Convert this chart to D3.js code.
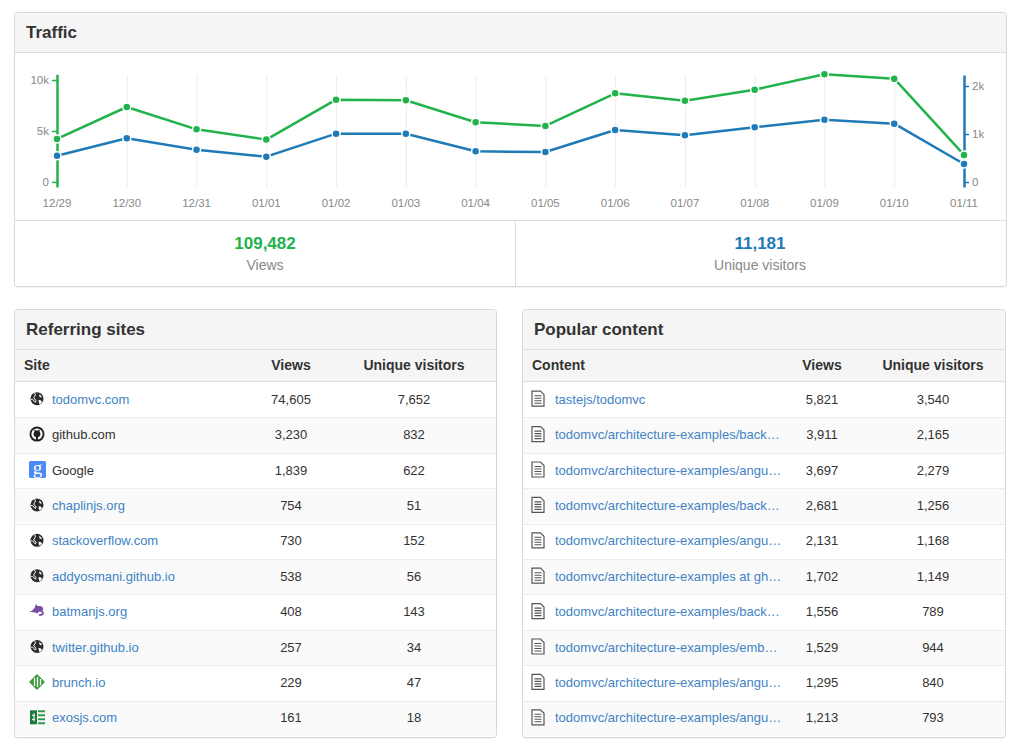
<!DOCTYPE html>
<html><head><meta charset="utf-8">
<script src="https://cdn.jsdelivr.net/npm/d3@7"></script>
<style>
html,body{margin:0;padding:0;background:#fff;}
svg{display:block;font-family:"Liberation Sans",Arial,Helvetica,sans-serif;}
</style></head>
<body>
<svg id="c" width="1024" height="753"></svg>
<script>
// ---------- data ----------
const dates = ["12/29","12/30","12/31","01/01","01/02","01/03","01/04","01/05","01/06","01/07","01/08","01/09","01/10","01/11"];
const views = [4220,7350,5160,4150,8070,8010,5850,5490,8690,7970,9050,10560,10130,2650];
const uniques = [548,910,673,528,1007,1007,639,625,1083,972,1139,1299,1215,375];
const viewTicks = [0,5000,10000];
const uniqueTicks = [0,1000,2000];
const totalViews = "109,482";
const totalUniques = "11,181";

const sites = ["todomvc.com","github.com","Google","chaplinjs.org","stackoverflow.com","addyosmani.github.io","batmanjs.org","twitter.github.io","brunch.io","exosjs.com"];
const siteIcons = ["globe","github","google","globe","globe","globe","batman","globe","brunch","exos"];
const siteLinks = [true,false,false,true,true,true,true,true,true,true];
const siteViews = [74605,3230,1839,754,730,538,408,257,229,161];
const siteUniques = [7652,832,622,51,152,56,143,34,47,18];

const contents = ["tastejs/todomvc","todomvc/architecture-examples/back\u2026","todomvc/architecture-examples/angu\u2026","todomvc/architecture-examples/back\u2026","todomvc/architecture-examples/angu\u2026","todomvc/architecture-examples at gh\u2026","todomvc/architecture-examples/back\u2026","todomvc/architecture-examples/emb\u2026","todomvc/architecture-examples/angu\u2026","todomvc/architecture-examples/angu\u2026"];
const contentViews = [5821,3911,3697,2681,2131,1702,1556,1529,1295,1213];
const contentUniques = [3540,2165,2279,1256,1168,1149,789,944,840,793];

// ---------- style ----------
const GREEN = "#22b24c", BLUE = "#1f7ab8", LINK = "#4183c4", TXT = "#333";
const fmt = d3.format(",");
const svg = d3.select("#c");

function panel(x, y, w, h, title, headerH) {
  const g = svg.append("g");
  g.append("rect").attr("x", x+0.5).attr("y", y+1.5).attr("width", w).attr("height", h)
    .attr("rx", 3).attr("fill", "#e8e8e8");
  g.append("rect").attr("x", x+0.5).attr("y", y+0.5).attr("width", w).attr("height", h)
    .attr("rx", 3).attr("fill", "#fff").attr("stroke", "#d8d8d8");
  g.append("path").attr("d", `M${x+1},${y+headerH} V${y+4} Q${x+1},${y+1} ${x+4},${y+1} H${x+w-3} Q${x+w},${y+1} ${x+w},${y+4} V${y+headerH} Z`)
    .attr("fill", "#f5f5f5");
  g.append("line").attr("x1", x+1).attr("x2", x+w).attr("y1", y+headerH+0.5).attr("y2", y+headerH+0.5)
    .attr("stroke", "#dedede");
  g.append("text").attr("x", x+12).attr("y", y+26).attr("font-size", 17).attr("font-weight", "bold")
    .attr("fill", TXT).text(title);
  return g;
}

// ---------- Traffic panel ----------
panel(14, 12, 992, 274, "Traffic", 40);

const x = d3.scalePoint().domain(dates).range([57, 964]);
const yV = d3.scaleLinear().domain([-500, 10560]).range([187, 74.3]);
const yU = d3.scaleLinear().domain([-104, 2229]).range([187, 75]);

const chart = svg.append("g");
chart.selectAll("line.grid").data(dates).enter().append("line")
  .attr("x1", d => x(d)+0.5).attr("x2", d => x(d)+0.5).attr("y1", 75).attr("y2", 187)
  .attr("stroke", "#ececec");

chart.selectAll("text.xl").data(dates).enter().append("text")
  .attr("x", d => x(d)).attr("y", 207).attr("text-anchor", "middle")
  .attr("font-size", 11.5).attr("fill", "#888").text(d => d);

const kfmt = d => d === 0 ? "0" : (d/1000)+"k";
const axL = chart.append("g").attr("transform", "translate(57,0)")
  .call(d3.axisLeft(yV).tickValues(viewTicks).tickSizeInner(5).tickSizeOuter(0).tickPadding(3).tickFormat(kfmt));
axL.select(".domain").attr("stroke", GREEN).attr("stroke-width", 2.5);
axL.selectAll(".tick line").attr("stroke", GREEN).attr("stroke-width", 1.5);
axL.selectAll(".tick text").attr("fill", "#888").attr("font-size", 11.5);

const axR = chart.append("g").attr("transform", "translate(964,0)")
  .call(d3.axisRight(yU).tickValues(uniqueTicks).tickSizeInner(5).tickSizeOuter(0).tickPadding(3).tickFormat(kfmt));
axR.select(".domain").attr("stroke", BLUE).attr("stroke-width", 2.5);
axR.selectAll(".tick line").attr("stroke", BLUE).attr("stroke-width", 1.5);
axR.selectAll(".tick text").attr("fill", "#888").attr("font-size", 11.5);
axL.attr("font-family", null); axR.attr("font-family", null);

function series(vals, scale, color) {
  chart.append("path").datum(vals)
    .attr("d", d3.line().x((d,i) => x(dates[i])).y(d => scale(d)))
    .attr("fill", "none").attr("stroke", color).attr("stroke-width", 2.5).attr("stroke-linejoin", "round");
  chart.selectAll(null).data(vals).enter().append("circle")
    .attr("cx", (d,i) => x(dates[i])).attr("cy", d => scale(d)).attr("r", 4)
    .attr("fill", color).attr("stroke", "#fff").attr("stroke-width", 1.5);
}
series(uniques, yU, BLUE);
series(views, yV, GREEN);

// summary
svg.append("line").attr("x1", 15).attr("x2", 1006).attr("y1", 220.5).attr("y2", 220.5).attr("stroke", "#dedede");
svg.append("line").attr("x1", 515.5).attr("x2", 515.5).attr("y1", 221).attr("y2", 286).attr("stroke", "#dedede");
svg.append("text").attr("x", 265).attr("y", 249).attr("text-anchor", "middle").attr("font-size", 17)
  .attr("font-weight", "bold").attr("fill", GREEN).text(totalViews);
svg.append("text").attr("x", 265).attr("y", 270).attr("text-anchor", "middle").attr("font-size", 14)
  .attr("fill", "#888").text("Views");
svg.append("text").attr("x", 760).attr("y", 249).attr("text-anchor", "middle").attr("font-size", 17)
  .attr("font-weight", "bold").attr("fill", BLUE).text(totalUniques);
svg.append("text").attr("x", 760).attr("y", 270).attr("text-anchor", "middle").attr("font-size", 14)
  .attr("fill", "#888").text("Unique visitors");

// ---------- icons ----------
function icon(g, type, cx, cy) {
  if (type === "globe") {
    g.append("circle").attr("cx", cx).attr("cy", cy).attr("r", 6.5).attr("fill", "#2b2b2b");
    g.append("path").attr("d", `M${cx-2.5},${cy-6} q1.5,2 0.5,3.5 q-2,1 -1,2.5 q1.5,0.5 2,2 l-0.5,1.5 q-1,0 -1.5,-1.5 q-1.5,-1.5 -3,-1.5`)
      .attr("fill", "none").attr("stroke", "#fff").attr("stroke-width", 1);
    g.append("path").attr("d", `M${cx+1.5},${cy+1.5} q2.5,-0.5 3.5,1.5 q-1,2 -2.5,2.5 q-1,-2 -1,-4 Z`)
      .attr("fill", "#fff");
    g.append("path").attr("d", `M${cx+2},${cy-4.5} q2,1 3,3 q-1.5,0.5 -2.5,-0.5 Z`)
      .attr("fill", "#fff");
  } else if (type === "github") {
    g.append("circle").attr("cx", cx).attr("cy", cy).attr("r", 7.5).attr("fill", "#222");
    g.append("circle").attr("cx", cx).attr("cy", cy).attr("r", 5.6).attr("fill", "#fff");
    g.append("path").attr("d", `M${cx-3.5},${cy+1} q0,-3 1,-3.5 l-0.3,-2.2 l1.8,1.2 q1,-0.3 2,0 l1.8,-1.2 l-0.3,2.2 q1,0.5 1,3.5 q-1,2 -2.5,2.2 v3.5 h-2 v-3.5 q-1.5,-0.2 -2.5,-2.2 Z`)
      .attr("fill", "#222");
  } else if (type === "google") {
    g.append("rect").attr("x", cx-8).attr("y", cy-8.5).attr("width", 17).attr("height", 17).attr("rx", 1.5).attr("fill", "#4a8af4");
    g.append("text").attr("x", cx+0.5).attr("y", cy+4.5).attr("text-anchor", "middle").attr("font-size", 19)
      .attr("font-family", "Liberation Serif, serif").attr("fill", "#fff").text("g");
  } else if (type === "batman") {
    g.append("path").attr("d", `M${cx-8},${cy+1} q4,-1 6,-5 l1,-3 l1.5,2 q3,-0.5 5,1 q1.5,2 0,4 q2,1 1,3.5 q-2,2 -5,1 l1,-1.5 q2,0.5 2.5,-1 q0,-1.5 -2,-1.5 q-2,0 -2.5,2 q-3,-2 -7.5,-1.5 Z`)
      .attr("fill", "#7a4aa6");
  } else if (type === "brunch") {
    g.append("path").attr("d", `M${cx},${cy-8} L${cx+8},${cy} L${cx},${cy+8} L${cx-8},${cy} Z`).attr("fill", "#3d9a3d");
    g.append("path").attr("d", `M${cx-2.5},${cy-4} V${cy+4} M${cx+0.5},${cy-5} V${cy+5} M${cx+3.5},${cy-3} V${cy+3}`)
      .attr("stroke", "#fff").attr("stroke-width", 1.3);
  } else if (type === "exos") {
    g.append("rect").attr("x", cx-7).attr("y", cy-7).attr("width", 7).attr("height", 14).attr("fill", "#1d7a3a");
    g.append("path").attr("d", `M${cx+1},${cy-6} h7 M${cx+1},${cy-2} h7 M${cx+1},${cy+2} h7 M${cx+1},${cy+6} h7`)
      .attr("stroke", "#2e9a4e").attr("stroke-width", 2);
    g.append("path").attr("d", `M${cx-3},${cy-4} v8 M${cx-5},${cy-2} h3 M${cx-5},${cy+2} h3`)
      .attr("stroke", "#fff").attr("stroke-width", 1);
  } else if (type === "doc") {
    g.append("path").attr("d", `M${cx-6},${cy-7.5} h8.5 l3.5,3.5 v11.5 h-12 Z`)
      .attr("fill", "#fff").attr("stroke", "#555").attr("stroke-width", 1.2);
    g.append("path").attr("d", `M${cx-3.5},${cy-3} h7 M${cx-3.5},${cy-0.5} h7 M${cx-3.5},${cy+2} h7 M${cx-3.5},${cy+4.5} h7`)
      .attr("stroke", "#555").attr("stroke-width", 1.1);
  }
}

// ---------- tables ----------
function table(px, pw, title, col0, names, icons, links, vViews, vUniques, iconX, textX, viewsX, uniqX) {
  const g = panel(px, 309, pw, 428, title, 40);
  g.append("rect").attr("x", px+1).attr("y", 350).attr("width", pw-1).attr("height", 31).attr("fill", "#f5f5f5");
  g.append("line").attr("x1", px+1).attr("x2", px+pw).attr("y1", 381.5).attr("y2", 381.5).attr("stroke", "#dcdcdc");
  const hdr = [[col0, px+10, "start"], ["Views", viewsX, "middle"], ["Unique visitors", uniqX, "middle"]];
  g.selectAll(null).data(hdr).enter().append("text")
    .attr("x", d => d[1]).attr("y", 370).attr("text-anchor", d => d[2])
    .attr("font-size", 14).attr("font-weight", "bold").attr("fill", TXT).text(d => d[0]);

  const yR = d3.scaleBand().domain(d3.range(names.length)).range([382, 736]);
  const rows = g.selectAll("g.row").data(names).enter().append("g");
  rows.append("rect").attr("x", px+1).attr("width", pw-1)
    .attr("y", (d,i) => yR(i)).attr("height", yR.bandwidth())
    .attr("fill", (d,i) => i % 2 ? "#fafafa" : "#fff");
  rows.filter((d,i) => i > 0).append("line").attr("x1", px+1).attr("x2", px+pw)
    .attr("y1", (d,i) => Math.round(yR(i+1))+0.5).attr("y2", (d,i) => Math.round(yR(i+1))+0.5)
    .attr("stroke", "#ececec");
  rows.each(function(d,i){ icon(d3.select(this), icons[i], iconX, yR(i) + yR.bandwidth()/2 - 1); });
  rows.append("text").attr("x", textX).attr("y", (d,i) => yR(i) + yR.bandwidth()/2 + 4)
    .attr("font-size", 13).attr("fill", (d,i) => links[i] ? LINK : TXT).text(d => d);
  rows.append("text").attr("x", viewsX).attr("y", (d,i) => yR(i) + yR.bandwidth()/2 + 4)
    .attr("text-anchor", "middle").attr("font-size", 13).attr("fill", TXT).text((d,i) => fmt(vViews[i]));
  rows.append("text").attr("x", uniqX).attr("y", (d,i) => yR(i) + yR.bandwidth()/2 + 4)
    .attr("text-anchor", "middle").attr("font-size", 13).attr("fill", TXT).text((d,i) => fmt(vUniques[i]));
}

table(14, 482, "Referring sites", "Site", sites, siteIcons, siteLinks, siteViews, siteUniques, 37, 52, 291, 414);
table(522, 483, "Popular content", "Content", contents, contents.map(() => "doc"), contents.map(() => true),
  contentViews, contentUniques, 538, 555, 822, 933);
</script>
</body></html>
